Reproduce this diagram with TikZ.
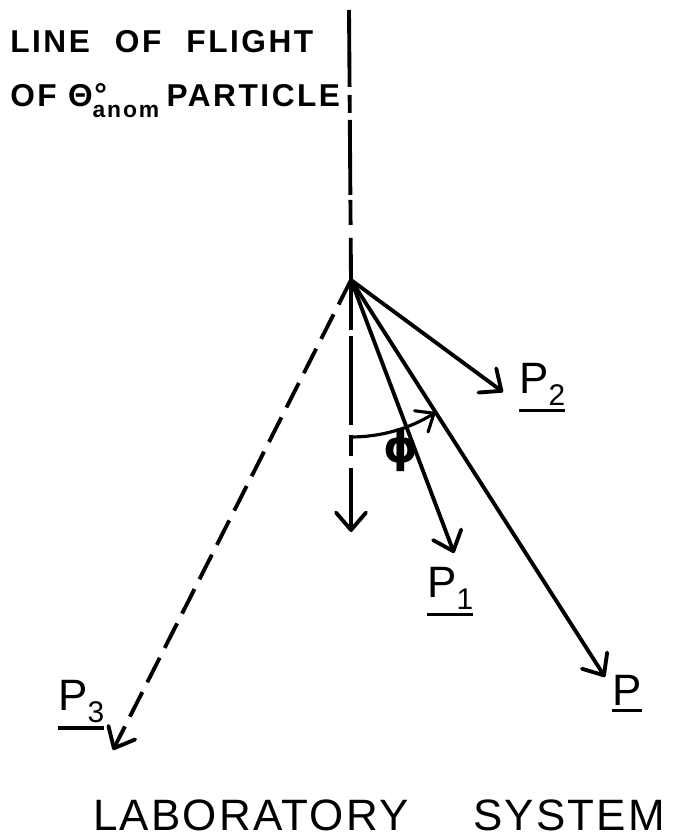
\documentclass[tikz,border=0pt]{standalone}
\usepackage{fontspec}
\usepackage{tikz}
\usetikzlibrary{arrows.meta}
\newfontfamily\letterfont{Liberation Sans}
\newfontfamily\titlefont[LetterSpace=8]{Liberation Sans}
\newfontfamily\systemfont[LetterSpace=5]{Liberation Sans}
\newfontfamily\phifont{DejaVu Sans}
% underlined vector letter, lowered subscript
\newcommand\vecbar[1]{\setbox0\hbox{#1}\rlap{\raisebox{-\dimexpr\dp0+4pt\relax}{\rule{\wd0}{1.8pt}}}\box0}
\newcommand\vecsub[1]{\raisebox{-7pt}{\fontsize{17}{17}\selectfont #1}}

\begin{document}
\begin{tikzpicture}[x=0.02cm, y=0.02cm,
  ray/.style={line width=2.2pt, -{Straight Barb[length=3.5mm, width=6mm, round]}},
  flight/.style={line width=2.2pt},
  angarrow/.style={line width=1.8pt, -{Straight Barb[length=3mm, width=5mm, round]}},
  veclabel/.style={anchor=base west, inner sep=0pt,
    font=\letterfont\fontsize{25}{28}\selectfont},
  heading/.style={anchor=base west, inner sep=0pt,
    font=\titlefont\bfseries\fontsize{18}{20}\selectfont},
]
  \useasboundingbox (0,0) rectangle (682,-837);

  % Vertex and ray ends
  \coordinate (O) at (351,-280);
  \coordinate (top) at (349,-10);
  \coordinate (down) at (351,-532);
  \coordinate (tipP2) at (503,-392);
  \coordinate (tipP1) at (454,-553);
  \coordinate (tipP) at (605,-677);
  \coordinate (tipP3) at (113,-750);
  \coordinate (phistart) at (351,-437);

  % Line of flight
  \draw[flight, dash pattern=on 1.54cm off 0.16cm on 0.36cm off 0.14cm on 1.5cm off 0.1cm on 0.5cm off 0.26cm on 2cm]
    (top) -- (O);
  \draw[ray, dash pattern=on 1cm off 0.12cm on 1.78cm off 0.2cm on 0.42cm off 0.24cm on 3cm]
    (O) -- (down);

  % Momenta
  \draw[ray] (O) -- (tipP2);
  \draw[ray] (O) -- (tipP1);
  \draw[ray] (O) -- (tipP);
  \draw[ray, dash pattern=on 0.55cm off 0.22cm] (O) -- (tipP3);

  % Angle phi
  \draw[angarrow] (phistart) arc[start angle=-90, end angle=-57.5, radius=3.14cm];
  \node[inner sep=0pt, font=\phifont\bfseries\fontsize{25}{28}\selectfont] (phi) at (401,-450) {ϕ};

  % Labels
  \node[veclabel] (labP2) at (519,-393) {\vecbar{P\vecsub{2}}};
  \node[veclabel] (labP1) at (427,-597) {\vecbar{P\vecsub{1}}};
  \node[veclabel] (labP) at (612,-705) {\vecbar{P}};
  \node[veclabel] (labP3) at (58,-710) {\vecbar{P\vecsub{3}}};

  \node[heading] (flightA) at (10,-53) {LINE\hspace{0.5cm}OF\hspace{0.5cm}FLIGHT};
  \node[heading] (flightB) at (10,-107)
    {OF Θ\rlap{\raisebox{1pt}{\kern1pt°}}\raisebox{-6pt}{\fontsize{13}{13}\selectfont anom}\hspace{0.15cm}PARTICLE};

  \node[anchor=base west, inner sep=0pt, font=\systemfont\fontsize{25}{30}\selectfont]
    (system) at (93,-830) {LABORATORY\hspace{1.3cm}SYSTEM};
\end{tikzpicture}
\end{document}
